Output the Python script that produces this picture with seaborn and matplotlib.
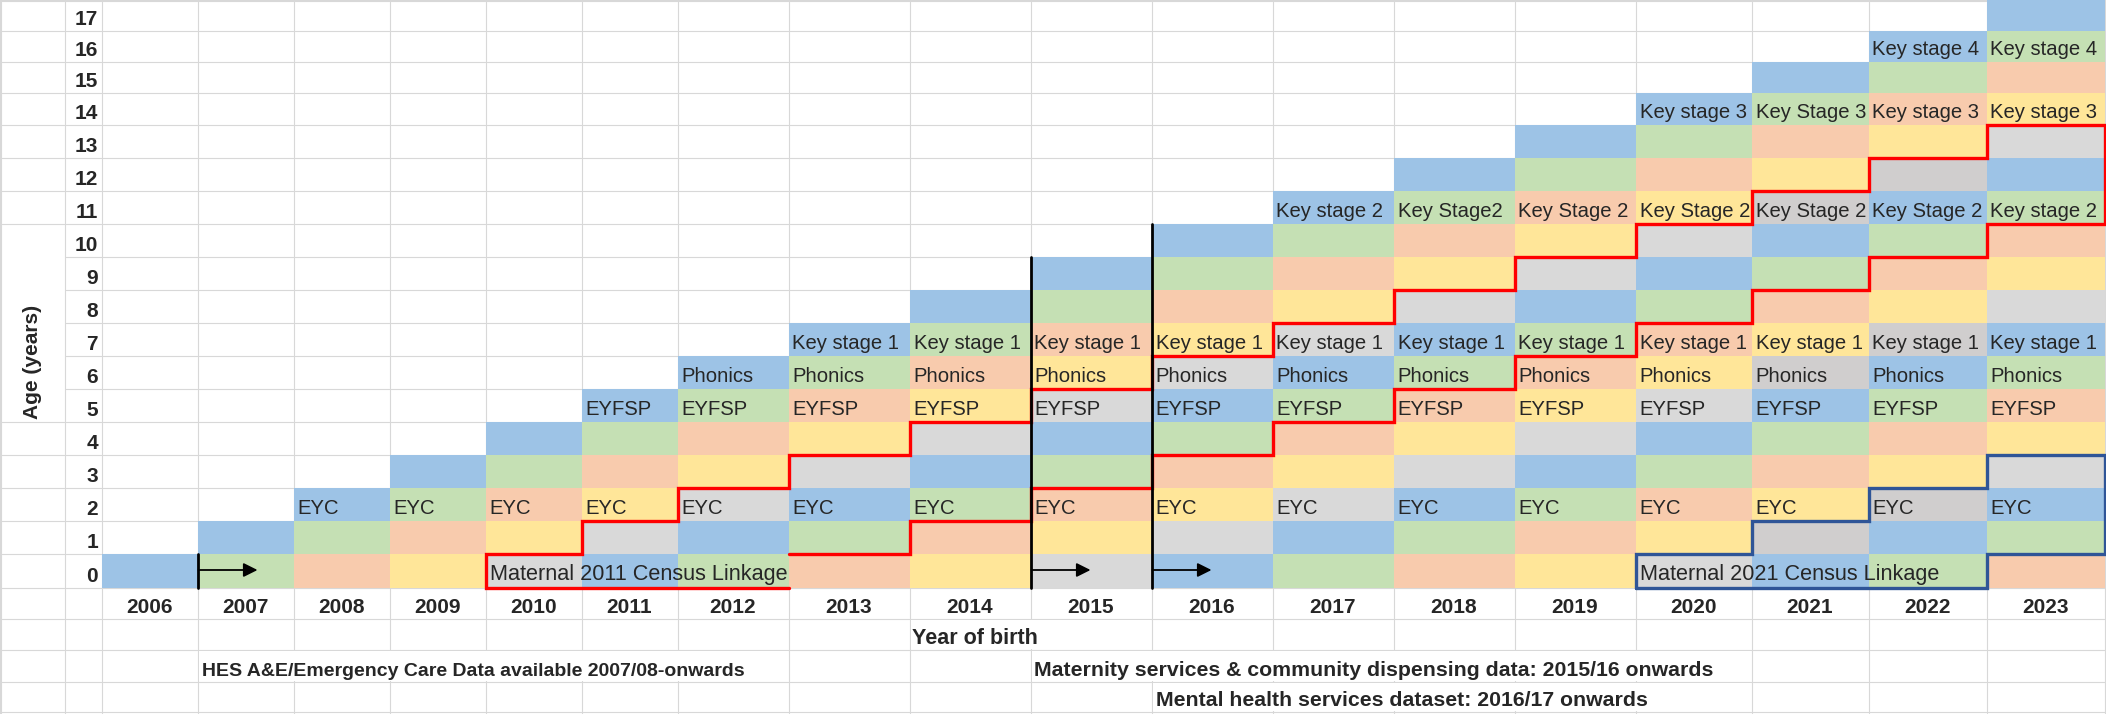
import numpy as np
import pandas as pd
import matplotlib
matplotlib.use("Agg")
import matplotlib.pyplot as plt
from matplotlib.colors import ListedColormap
from matplotlib.patches import Rectangle
import seaborn as sns

# ---- data ----
birth_years = [2006, 2007, 2008, 2009, 2010, 2011, 2012, 2013, 2014,
               2015, 2016, 2017, 2018, 2019, 2020, 2021, 2022, 2023]
oldest_age = [0, 1, 2, 3, 4, 5, 6, 7, 8, 9, 10, 11, 12, 13, 14, 15, 16, 17]
ages = [17, 16, 15, 14, 13, 12, 11, 10, 9, 8, 7, 6, 5, 4, 3, 2, 1, 0]

# assessment labels by age, listed for the most recent cohorts
eyc_labels = ["EYC"] * 16
eyfsp_labels = ["EYFSP"] * 13
phonics_labels = ["Phonics"] * 12
ks1_labels = ["Key stage 1"] * 11
ks2_labels = ["Key stage 2", "Key Stage2", "Key Stage 2", "Key Stage 2",
              "Key Stage 2", "Key Stage 2", "Key stage 2"]
ks3_labels = ["Key stage 3", "Key Stage 3", "Key stage 3", "Key stage 3"]
ks4_labels = ["Key stage 4", "Key stage 4"]
milestone_ages = [2, 5, 6, 7, 11, 14, 16]
milestone_labels = [eyc_labels, eyfsp_labels, phonics_labels, ks1_labels,
                    ks2_labels, ks3_labels, ks4_labels]

census_labels = ["Maternal 2011 Census Linkage", "Maternal 2021 Census Linkage"]
census_first_cohort = [2010, 2020]
census_last_cohort = [2012, 2022]

data_labels = ["HES A&E/Emergency Care Data available 2007/08-onwards",
               "Maternity services & community dispensing data: 2015/16 onwards",
               "Mental health services dataset: 2016/17 onwards"]
data_start_years = [2007, 2015, 2016]
data_line_top_age = [0, 9, 10]

# ---- layout (pixels, like the spreadsheet) ----
W, H = 2106, 714
col_widths = [65, 36.5] + [96] * 6 + [111] + [121] * 7 + [116, 117, 118, 118]
row_heights = [31, 31, 31, 32] + [33] * 13 + [34] + [31, 31, 32, 30]
x_edges = np.concatenate([[0], np.cumsum(col_widths)])
y_edges = np.concatenate([[0], np.cumsum(row_heights)])
YEAR_ROW, AXIS_ROW = 18, 19
note_rows = [20, 20, 21]
note_sizes = [14, 15.3, 15.3]

palette = ["#9DC3E6", "#C5E0B4", "#F8CBAD", "#FFE699", "#D9D9D9", "#D0CECE"]
dark_grey_years = [2021, 2022]
grid_c = "#D8D8D8"
red, navy = "#FF0000", "#2F5597"


def col_left(year):
    return x_edges[2 + birth_years.index(year)]


def col_right(year):
    return x_edges[3 + birth_years.index(year)]


def row_top(age):
    return y_edges[ages.index(age)]


def row_bottom(age):
    return y_edges[ages.index(age) + 1]


def band_outline(first, last, gap):
    years = [y for y in birth_years if y >= first]
    top_pts, low_pts = [], []
    for yr in years:
        hi = yr - first
        top_pts += [(col_left(yr), row_top(hi)), (col_right(yr), row_top(hi))]
    for yr in reversed(years):
        lo = max(0, yr - last)
        low_pts += [(col_right(yr), row_bottom(lo)), (col_left(yr), row_bottom(lo))]
    closed = [(col_left(first), row_bottom(0))] + top_pts + low_pts
    if gap:
        k = closed.index((col_right(last), row_bottom(0)))
        closed = closed[k:] + closed[1:k]
    return pd.DataFrame(closed, columns=["x", "y"])


sns.set_style("white")
plt.rcParams['font.family'] = ['Liberation Sans', 'DejaVu Sans']

fig = plt.figure(figsize=(W / 100, H / 100), dpi=100)
ax = fig.add_axes([0, 0, 1, 1])
ax.axis("off")

# gridlines (the "Age" cell is merged over rows 10 to 5)
merged_top, merged_bottom = row_top(10), row_bottom(5)
for y in y_edges:
    x0 = x_edges[1] if merged_top < y < merged_bottom else 0
    ax.plot([x0, W], [y, y], color=grid_c, lw=0.8, zorder=0)
for x in x_edges:
    ax.plot([x, x], [0, H], color=grid_c, lw=0.8, zorder=0)
ax.plot([0, W], [0.5, 0.5], color=grid_c, lw=0.8, zorder=0)
ax.plot([0.5, 0.5], [0, H], color=grid_c, lw=0.8, zorder=0)

# coloured cohort cells, one colour per diagonal
cells = np.full((len(ages), len(birth_years)), np.nan)
for c, (yr, top) in enumerate(zip(birth_years, oldest_age)):
    for age in range(top + 1):
        k = (yr - age - birth_years[0]) % 5
        if k == 4 and yr in dark_grey_years:
            k = 5
        cells[ages.index(age), c] = k
ax.pcolormesh(x_edges[2:], y_edges[:len(ages) + 1], np.ma.masked_invalid(cells),
              cmap=ListedColormap(palette), vmin=-0.5, vmax=5.5,
              antialiased=False, edgecolors="none", zorder=1)

# cell labels
for age, labels in zip(milestone_ages, milestone_labels):
    for yr, lab in zip(birth_years[-len(labels):], labels):
        ax.text(col_left(yr) + 4, row_bottom(age) - 7, lab, fontsize=14.6,
                ha="left", va="baseline", zorder=6)

for lab, first in zip(census_labels, census_first_cohort):
    ax.text(col_left(first) + 5, row_bottom(0) - 8, lab, fontsize=15.6,
            ha="left", va="baseline", zorder=6)

# census linkage outlines
for first, last, colr, gap in zip(census_first_cohort, census_last_cohort,
                                  [red, navy], [True, False]):
    df = band_outline(first, last, gap)
    sns.lineplot(data=df, x="x", y="y", sort=False, estimator=None, color=colr,
                 linewidth=2.4, solid_joinstyle="miter", ax=ax, zorder=5)

# data availability start markers
for yr, top in zip(data_start_years, data_line_top_age):
    x = col_left(yr)
    ax.plot([x, x], [row_top(top), row_bottom(0)], color="black", lw=2.0, zorder=5)
    yc = (row_top(0) + row_bottom(0)) / 2 - 1
    ax.annotate("", xy=(x + 60, yc), xytext=(x + 1, yc), zorder=6,
                arrowprops=dict(arrowstyle="-|>", color="black", lw=1.3,
                                mutation_scale=21, shrinkA=0, shrinkB=0))

# axis labels
for age in ages:
    ax.text(x_edges[2] - 3.5, row_bottom(age) - 6, str(age), fontsize=15,
            fontweight="bold", ha="right", va="baseline", zorder=6)
for yr in birth_years:
    ax.text((col_left(yr) + col_right(yr)) / 2, y_edges[YEAR_ROW + 1] - 6, str(yr),
            fontsize=15, fontweight="bold", ha="center", va="baseline", zorder=6)
ax.text(33, 362, "Age (years)", rotation=90,
        fontsize=15, fontweight="bold", ha="center", va="center", zorder=6)

overflow = [ax.text(col_left(2014) + 3, y_edges[AXIS_ROW + 1] - 5.5, "Year of birth",
                    fontsize=15.5, fontweight="bold", ha="left", va="baseline", zorder=6)]
for lab, yr, r, fs in zip(data_labels, data_start_years, note_rows, note_sizes):
    overflow.append(ax.text(col_left(yr) + 4, y_edges[r + 1] - 6.5, lab, fontsize=fs,
                            fontweight="bold", ha="left", va="baseline", zorder=6))

ax.set_xlim(0, W)
ax.set_ylim(H, 0)

# overflowing text hides the gridlines of the cells it runs across
fig.canvas.draw()
renderer = fig.canvas.get_renderer()
inv = ax.transData.inverted()
for t in overflow:
    bb = t.get_window_extent(renderer)
    (x0, _), (x1, _) = inv.transform([(bb.x0, bb.y0), (bb.x1, bb.y1)])
    i0 = np.searchsorted(x_edges, x0) - 1
    i1 = np.searchsorted(x_edges, x1)
    r = np.searchsorted(y_edges, t.get_position()[1]) - 1
    ax.add_patch(Rectangle((x_edges[i0] + 1, y_edges[r] + 1),
                           x_edges[i1] - x_edges[i0] - 2, y_edges[r + 1] - y_edges[r] - 2,
                           facecolor="white", edgecolor="none", zorder=0.5))

fig.savefig("out.png", dpi=100)
